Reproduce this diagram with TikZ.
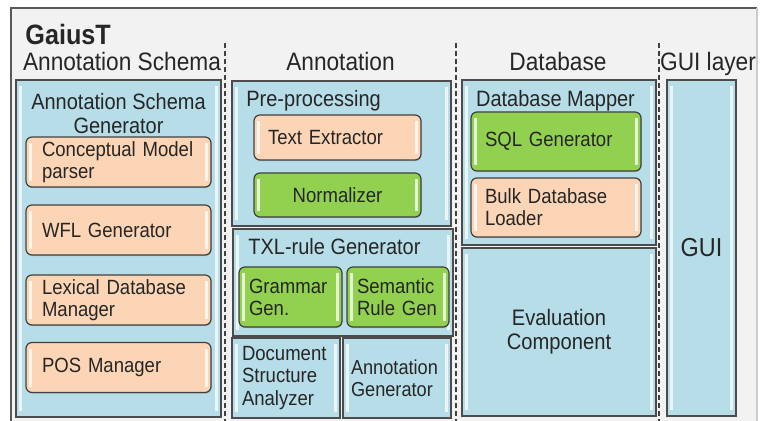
\documentclass[tikz,border=0pt]{standalone}
\usepackage{fontspec}
\setmainfont{Liberation Sans}[FakeStretch=0.9]
\usetikzlibrary{positioning,shadows}

\definecolor{boxblue}{HTML}{B7DEE8}
\definecolor{boxorange}{HTML}{FBD5B5}
\definecolor{boxgreen}{HTML}{92D050}
\definecolor{framegray}{HTML}{F2F2F2}
\definecolor{inkgray}{HTML}{262626}

\tikzset{
  gloss/.style={path picture={
    \fill[white, opacity=.75, sharp corners] ([shift={(1.5pt,-3pt)}]path picture bounding box.north west) rectangle ([shift={(3pt,3pt)}]path picture bounding box.south west);
    \fill[white, opacity=.75, sharp corners] ([shift={(-3pt,-3pt)}]path picture bounding box.north east) rectangle ([shift={(-1.5pt,3pt)}]path picture bounding box.south east);}},
}

\begin{document}
\begin{tikzpicture}[x=0.5pt, y=-0.5pt, text=inkgray,
  layer/.style={font=\fontsize{12.6}{14}\selectfont, inner sep=0pt, anchor=base},
  title/.style={font=\fontsize{11.1}{12}\selectfont, inner sep=0pt},
  grp/.style={draw=black!70, line width=0.6pt, fill=boxblue, gloss, inner sep=0pt},
  part/.style={draw=black!75, line width=0.6pt, rounded corners=3pt, gloss, inner ysep=0pt, text width=#1, align=left,
    font=\fontsize{10.3}{11}\selectfont, drop shadow={shadow xshift=0.3pt, shadow yshift=-0.6pt, opacity=.35}},
  orangepart/.style={part=#1, fill=boxorange},
  greenpart/.style={part=#1, fill=boxgreen}]
  % ---------------- frame, layer captions, separators
  \useasboundingbox (0,0) rectangle (763,421);
  \fill[framegray] (11,8) rectangle (757,430);
  \draw[black!65, line width=0.6pt] (11,430) -- (11,8) -- (757,8);
  \draw[black!20, line width=0.6pt] (757,8) -- (757,430);
  \node[anchor=base west, inner sep=0pt, font=\fontsize{14}{16}\selectfont\bfseries] (gaius) at (25,45) {GaiusT};
  \foreach \n/\x/\t in {schemaL/122/Annotation Schema, annotL/340.5/Annotation, dbL/558/Database, guiL/708/GUI layer}
    \node[layer] (\n) at (\x,70.5) {\t};
  \foreach \x in {225,456,659}
    \draw[black!75, line width=0.6pt, dash pattern=on 2.5pt off 1.5pt] (\x,43) -- (\x,421);
  % ---------------- annotation schema
  \node[grp, minimum width=102.5pt, minimum height=168.5pt] (asg) at (118.5,248.5) {};
  \node[title, align=center] (asgT) at (118.5,113.5) {Annotation Schema\\Generator};
  \foreach \n/\y/\t in {cmp/162/{Conceptual Model\\parser}, wfl/230/{WFL Generator}, lex/300/{Lexical Database\\Manager}, pos/367.5/{POS Manager}}
    \node[orangepart=76.5pt, inner xsep=8pt, minimum height=25pt] (\n) at (118.5,\y) {\t};
  % ---------------- annotation
  \node[grp, minimum width=109.5pt, minimum height=72.5pt] (pre) at (341.5,153.5) {};
  \node[title, anchor=base west] (preT) at (246,107) {Pre-processing};
  \node[orangepart=69.5pt, inner xsep=7pt, minimum height=22.5pt] (textx) at (337.5,137.5) {Text Extractor};
  \node[greenpart=69.5pt, inner xsep=7pt, minimum height=22pt, align=center] (norm) at (337.5,195) {Normalizer};
  \node[grp, minimum width=110pt, minimum height=53.5pt] (txl) at (343,282.5) {};
  \node[title, anchor=base west] (txlT) at (248,255) {TXL-rule Generator};
  \node[greenpart=41.5pt, inner xsep=5pt, minimum height=30pt] (gram) at (290.5,297) {Grammar\\Gen.};
  \node[greenpart=41pt, inner xsep=5pt, minimum height=30pt] (sem) at (398,297) {Semantic\\Rule Gen};
  \node[grp, text width=44pt, inner xsep=5pt, minimum height=40pt, align=left, font=\fontsize{10.3}{11.3}\selectfont] (dsa) at (286,378) {Document\\Structure\\Analyzer};
  \node[grp, text width=46pt, inner xsep=4pt, minimum height=40pt, align=left, font=\fontsize{10.1}{10.8}\selectfont] (agen) at (397,378) {Annotation\\Generator};
  % ---------------- database
  \node[grp, minimum width=97pt, minimum height=82.5pt] (dbm) at (559,162.5) {};
  \node[title, anchor=base] (dbmT) at (555.5,107) {Database Mapper};
  \node[greenpart=71pt, inner xsep=7pt, minimum height=29.5pt] (sql) at (556,141.5) {SQL Generator};
  \node[orangepart=71pt, inner xsep=7pt, minimum height=29.5pt] (bulk) at (556,207.5) {Bulk Database\\Loader};
  \node[grp, minimum width=97pt, minimum height=84pt, align=center, font=\fontsize{11.2}{11.8}\selectfont] (eval) at (559,332) {Evaluation\\Component};
  % ---------------- gui
  \node[grp, minimum width=34.5pt, minimum height=168pt, font=\fontsize{13}{15}\selectfont] (gui) at (701.5,248) {GUI};
\end{tikzpicture}
\end{document}
